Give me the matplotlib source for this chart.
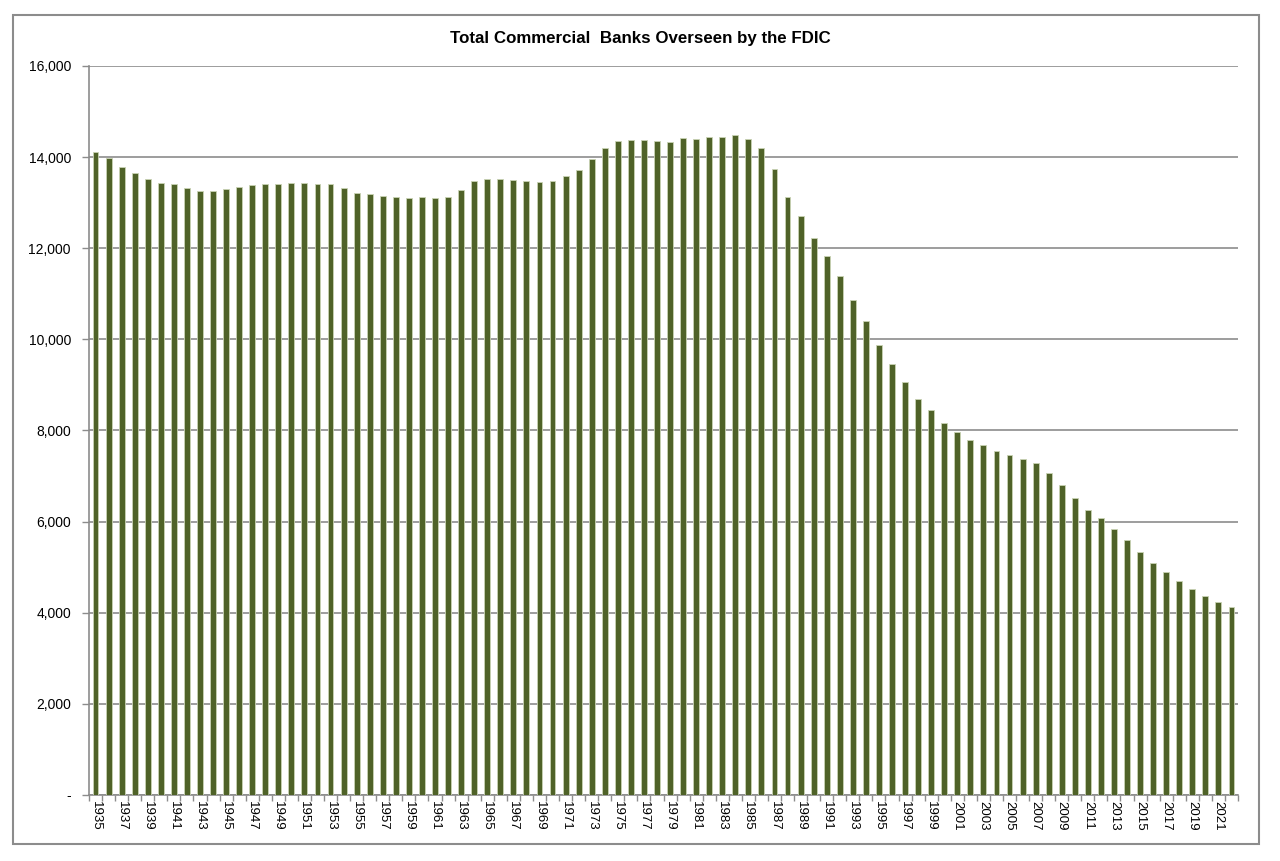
import numpy as np
import matplotlib
matplotlib.use("Agg")
import matplotlib.pyplot as plt
from matplotlib.patches import Rectangle
from matplotlib.ticker import FuncFormatter, FixedLocator

plt.rcParams['font.family'] = ['Liberation Sans', 'DejaVu Sans']

years = list(range(1935, 2023))
banks = [14110, 13970, 13780, 13650, 13520, 13440, 13420, 13330, 13260, 13260,
         13290, 13340, 13380, 13400, 13420, 13440, 13440, 13420, 13420, 13320,
         13220, 13200, 13150, 13120, 13100, 13120, 13100, 13120, 13280, 13480,
         13520, 13520, 13500, 13470, 13450, 13480, 13590, 13710, 13960, 14200,
         14360, 14380, 14380, 14360, 14340, 14410, 14400, 14440, 14450, 14490,
         14400, 14200, 13750, 13130, 12710, 12220, 11840, 11390, 10870, 10400,
         9880, 9460, 9060, 8690, 8440, 8170, 7970, 7790, 7680, 7550,
         7460, 7380, 7280, 7060, 6810, 6520, 6260, 6070, 5830, 5600,
         5330, 5090, 4890, 4700, 4520, 4370, 4230, 4120]

bar_color = '#4F6228'
grid_color = '#8C8C8C'

fig = plt.figure(figsize=(12.8, 8.61), dpi=100)
ax = fig.add_axes([89 / 1280, 1 - 795 / 861, (1238 - 89) / 1280, (795 - 66) / 861])

x = np.arange(len(years))
ax.bar(x, banks, width=0.45, color=bar_color, edgecolor='#C9D3B4', linewidth=0.6, zorder=3)

ax.set_xlim(-0.5, len(years) - 0.5)
ax.set_ylim(0, 16000)
ax.set_yticks(range(0, 16001, 2000))
ax.yaxis.set_major_formatter(FuncFormatter(lambda v, p: '-' if v == 0 else f'{int(v):,}'))
ax.grid(axis='y', color=grid_color, linewidth=1.2, zorder=0)

# year labels every other year, tick marks on category boundaries
ax.set_xticks(x[::2])
ax.set_xticklabels([str(y) for y in years[::2]], rotation=270, fontsize=9.5)
ax.xaxis.set_minor_locator(FixedLocator(np.arange(-0.5, len(years), 1)))
ax.tick_params(axis='x', which='major', length=0, pad=4)
ax.tick_params(axis='x', which='minor', length=4, color=grid_color, width=1)
ax.tick_params(axis='y', length=5, color=grid_color, width=1, labelsize=10, pad=8)

for s in ['top', 'right']:
    ax.spines[s].set_visible(False)
for s in ['left', 'bottom']:
    ax.spines[s].set_color(grid_color)
    ax.spines[s].set_linewidth(1.2)

fig.text(0.5, 1 - 38 / 861, 'Total Commercial  Banks Overseen by the FDIC',
         ha='center', va='center', fontsize=12.2, fontweight='bold')

fig.patches.append(Rectangle((13 / 1280, 1 - 844 / 861), (1259 - 13) / 1280, (844 - 15) / 861,
                             transform=fig.transFigure, fill=False,
                             edgecolor=grid_color, linewidth=1.5))

fig.savefig('out.png', dpi=100, facecolor='white')
